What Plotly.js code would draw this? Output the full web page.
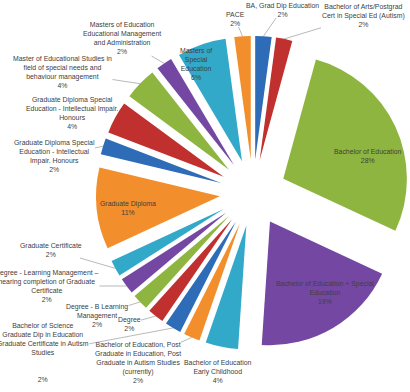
<!DOCTYPE html>
<html>
<head>
<meta charset="utf-8">
<script src="https://cdn.plot.ly/plotly-3.0.1.min.js"></script>
<style>html,body{margin:0;padding:0;background:#fff;}#chart{width:410px;height:392px;}</style>
</head>
<body>
<div id="chart"></div>
<script>
// Qualifications (clockwise from 12 o'clock)
var categories = [
  "BA, Grad Dip Education",
  "Bachelor of Arts/Postgrad Cert in Special Ed (Autism)",
  "Bachelor of Education",
  "Bachelor of Education + Special Education",
  "Bachelor of Education Early Childhood",
  "Bachelor of Education, Post Graduate in Education, Post Graduate in Autism Studies (currently)",
  "Bachelor of Science Graduate Dip in Education Graduate Certificate in Autism Studies",
  "Degree",
  "Degree - B Learning Management",
  "Degree - Learning Management – nearing completion of Graduate Certificate",
  "Graduate Certificate",
  "Graduate Diploma",
  "Graduate Diploma Special Education - Intellectual Impair. Honours",
  "Graduate Diploma Special Education - Intellectual Impair. Honours\u200B",
  "Master of Educational Studies in field of special needs and behaviour management",
  "Masters of Education Educational Management and Administration",
  "Masters of Special Education",
  "PACE"
];
// respondent counts (shown as 2%, 2%, 28%, 19%, 4%, ...)
var counts = [1, 1, 13, 9, 2, 1, 1, 1, 1, 1, 1, 5, 1, 2, 2, 1, 3, 1];
// wrapped label text as shown on the chart
var labelText = [
  "BA, Grad Dip Education",
  "Bachelor of Arts/Postgrad<br>Cert in Special Ed (Autism)",
  "Bachelor of Education",
  "Bachelor of Education + Special<br>Education",
  "Bachelor of Education<br>Early Childhood",
  "Bachelor of Education, Post<br>Graduate in Education, Post<br>Graduate in Autism Studies<br>(currently)",
  "Bachelor of Science<br>Graduate Dip in Education<br>Graduate Certificate in Autism<br>Studies<br> <br> ",
  "Degree",
  "Degree - B Learning<br>Management",
  "Degree - Learning Management –<br>nearing completion of Graduate<br>Certificate",
  "Graduate Certificate",
  "Graduate Diploma",
  "Graduate Diploma Special<br>Education - Intellectual<br>Impair. Honours",
  "Graduate Diploma Special<br>Education - Intellectual Impair.<br>Honours",
  "Master of Educational Studies in<br>field of special needs and<br>behaviour management",
  "Masters of Education<br>Educational Management<br>and Administration",
  "Masters of<br>Special<br>Education",
  "PACE"
];

// ---- layout / style settings (not data) ----
var W = 410, H = 392;
var PULL = 0.27;
var DOM = { x: [0.234, 1.0], y: [0.103, 0.913] };
var palette = ['#2E6CB8', '#C0302E', '#8DB53F', '#7448A2', '#33A9C9', '#F28E2B'];
// label box centres (px) and whether a leader line is drawn
var labelPlace = [
  [282, 9.5, true], [363, 15, true], [368, 156, false], [325, 292, false],
  [218, 371.5, false], [137.5, 362, true], [43, 352.5, true], [129, 323.5, true],
  [97, 315, true], [47, 286, true], [51, 249.5, true], [127.5, 207.5, false],
  [54, 156, true], [72, 113, false], [62.5, 72, true], [122, 38.5, true],
  [196, 64, false], [235, 18.5, true]
];
var FONT = { family: 'Liberation Sans, Arial, sans-serif', size: 6.9, color: '#404040' };

var colors = categories.map(function (c, i) { return palette[i % palette.length]; });

var trace = {
  type: 'pie',
  labels: categories,
  values: counts,
  textinfo: 'none',
  sort: false,
  direction: 'clockwise',
  rotation: 0,
  pull: PULL,
  marker: { colors: colors, line: { color: '#ffffff', width: 0 } },
  domain: DOM,
  hoverinfo: 'label+percent'
};

// pie geometry (same rule the library uses) to aim leader lines at slice edges
var boxW = W * (DOM.x[1] - DOM.x[0]), boxH = H * (DOM.y[1] - DOM.y[0]);
var r = Math.min(boxW, boxH) / (2 + 2 * PULL);
var cx = W * (DOM.x[0] + DOM.x[1]) / 2;
var cy = H * (2 - DOM.y[0] - DOM.y[1]) / 2;
var total = counts.reduce(function (a, b) { return a + b; }, 0);

var annotations = [];
var cum = 0;
counts.forEach(function (v, i) {
  var mid = (cum + v / 2) / total * 2 * Math.PI;
  cum += v;
  var pct = Math.round(v / total * 100) + '%';
  var txt = labelText[i] + '<br>' + pct;
  var p = labelPlace[i];
  if (p[2]) {
    var px = cx + r * (1 + PULL) * Math.sin(mid);
    var py = cy - r * (1 + PULL) * Math.cos(mid);
    annotations.push({
      xref: 'paper', yref: 'paper', x: px / W, y: 1 - py / H,
      ax: p[0] - px, ay: p[1] - py,
      text: txt, showarrow: true, arrowhead: 0, arrowwidth: 0.6,
      arrowcolor: '#8a8a8a', standoff: 0, startstandoff: 0,
      align: 'center', font: FONT, borderpad: 0
    });
  } else {
    annotations.push({
      xref: 'paper', yref: 'paper', x: p[0] / W, y: 1 - p[1] / H,
      xanchor: 'center', yanchor: 'middle',
      text: txt, showarrow: false, align: 'center', font: FONT, borderpad: 0
    });
  }
});

var layout = {
  width: W, height: H,
  margin: { l: 0, r: 0, t: 0, b: 0 },
  showlegend: false,
  paper_bgcolor: '#ffffff',
  plot_bgcolor: '#ffffff',
  annotations: annotations
};

Plotly.newPlot('chart', [trace], layout, { displayModeBar: false, staticPlot: true });
</script>
</body>
</html>
